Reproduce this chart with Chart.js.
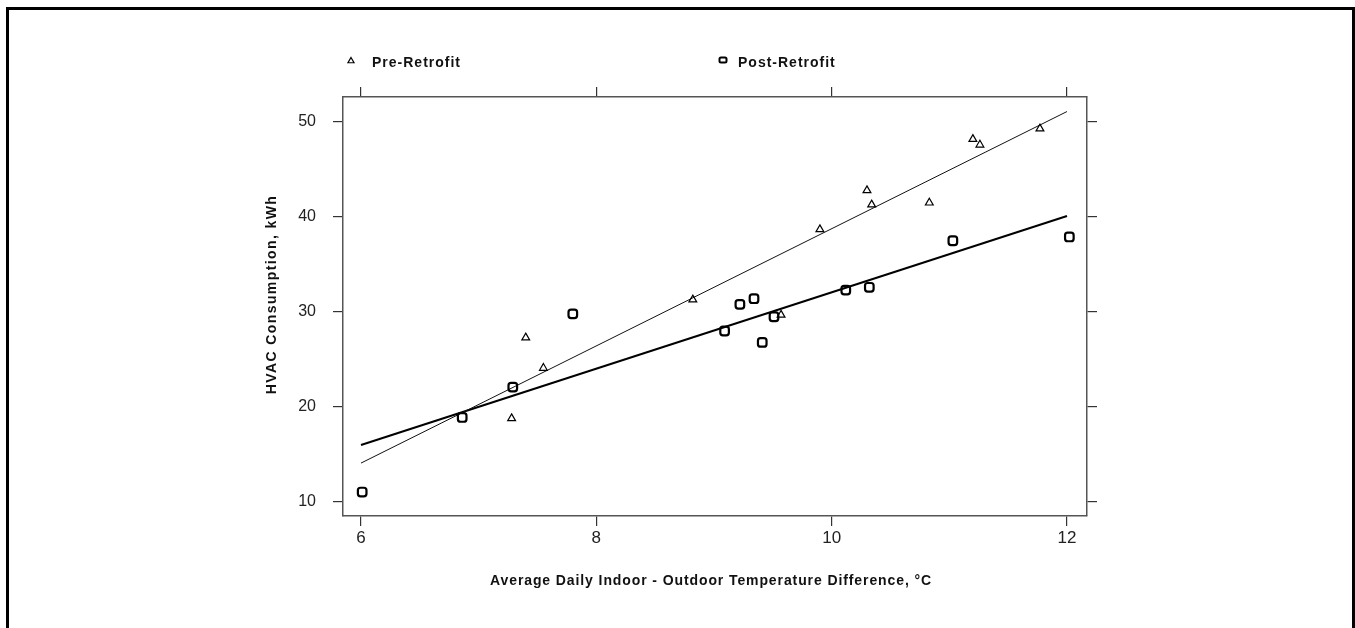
<!DOCTYPE html>
<html>
<head>
<meta charset="utf-8">
<title>HVAC Consumption vs Temperature Difference</title>
<script src="https://cdn.jsdelivr.net/npm/chart.js@4.4.0/dist/chart.umd.min.js"></script>
<style>
    html, body { margin: 0; padding: 0; background: #fff; overflow: hidden; }
    #frame {
        position: absolute; left: 6px; top: 7px; width: 1343px; height: 700px;
        border: 3px solid #000; border-bottom: none;
    }
    #chart { position: absolute; left: 0; top: 0; }
</style>
</head>
<body>
<div id="frame"></div>
<canvas id="chart" width="1355" height="628"></canvas>
<script>
// Данные
const preX = [7.28, 7.40, 7.55, 8.82, 9.57, 9.90, 10.30, 10.34, 10.83, 11.20, 11.26, 11.77];
const preY = [18.8, 27.3, 24.1, 31.3, 29.7, 38.7, 42.8, 41.3, 41.5, 48.2, 47.6, 49.3];
const postX = [6.01, 6.86, 7.29, 7.80, 9.09, 9.22, 9.34, 9.41, 9.51, 10.12, 10.32, 11.03, 12.02];
const postY = [11.05, 18.9, 22.1, 29.8, 28.0, 30.8, 31.4, 26.8, 29.5, 32.3, 32.6, 37.5, 37.9];

// Линии регрессии (концы)
const fitX = [6.0, 12.0];
const preFitY = [14.1, 51.1];
const postFitY = [16.0, 40.1];

const xTicks = [6, 8, 10, 12];
const yTicks = [10, 20, 30, 40, 50];

const seriesNames = ['Pre-Retrofit', 'Post-Retrofit'];
const xTitle = 'Average Daily Indoor - Outdoor Temperature Difference, \u00B0C';
const yTitle = 'HVAC Consumption, kWh';

const toPoints = (xs, ys) => xs.map((x, i) => ({ x: x, y: ys[i] }));

const FONT = '"Liberation Sans", Arial, Helvetica, sans-serif';

function markTriangle(ctx, x, y, r) {
    ctx.beginPath();
    ctx.moveTo(x, y - r);
    ctx.lineTo(x + r * 0.866, y + r * 0.5);
    ctx.lineTo(x - r * 0.866, y + r * 0.5);
    ctx.closePath();
    ctx.stroke();
}

function markSquare(ctx, x, y, w, h) {
    ctx.beginPath();
    ctx.roundRect(x - w / 2, y - h / 2, w, h, 1.5);
    ctx.stroke();
}

// Подписи осей и легенда сверху
const decor = {
    id: 'decor',
    afterDraw(chart) {
        const ctx = chart.ctx;
        const a = chart.chartArea;
        ctx.save();
        ctx.fillStyle = '#111';
        ctx.strokeStyle = '#000';
        ctx.font = 'bold 14px ' + FONT;
        ctx.letterSpacing = '0.9px';
        ctx.textAlign = 'center';
        ctx.textBaseline = 'middle';
        ctx.fillText(xTitle, (a.left + a.right) / 2 - 4, a.bottom + 65);

        ctx.save();
        ctx.letterSpacing = '1.4px';
        ctx.translate(a.left - 71, (a.top + a.bottom) / 2 - 12);
        ctx.rotate(-Math.PI / 2);
        ctx.fillText(yTitle, 0, 0);
        ctx.restore();

        // легенда
        ctx.font = 'bold 14px ' + FONT;
        ctx.letterSpacing = '1px';
        ctx.textAlign = 'left';
        const ly = a.top - 34;
        ctx.lineWidth = 1.2;
        markTriangle(ctx, a.left + 8, ly - 2, 3.5);
        ctx.fillText(seriesNames[0], a.left + 29, ly);
        ctx.lineWidth = 2;
        markSquare(ctx, a.left + 380, ly - 3, 7, 5);
        ctx.fillText(seriesNames[1], a.left + 395, ly);
        ctx.restore();
    }
};

const gridOpts = {
    drawOnChartArea: false,
    drawTicks: true,
    tickLength: 10,
    color: '#333',
    lineWidth: 1.2
};
const borderOpts = { display: true, color: '#555', width: 1.5 };

const ctx = document.getElementById('chart').getContext('2d');

new Chart(ctx, {
    type: 'scatter',
    data: {
        datasets: [
            {
                label: seriesNames[0],
                data: toPoints(preX, preY),
                pointStyle: 'triangle',
                radius: 4.5,
                borderWidth: 1.2,
                borderColor: '#000',
                backgroundColor: 'rgba(0,0,0,0)'
            },
            {
                label: seriesNames[1],
                data: toPoints(postX, postY),
                pointStyle: 'rectRounded',
                radius: 5,
                borderWidth: 2.2,
                borderColor: '#000',
                backgroundColor: 'rgba(0,0,0,0)'
            },
            {
                label: 'Pre-Retrofit fit',
                data: toPoints(fitX, preFitY),
                showLine: true,
                pointRadius: 0,
                borderWidth: 1,
                borderColor: '#111'
            },
            {
                label: 'Post-Retrofit fit',
                data: toPoints(fitX, postFitY),
                showLine: true,
                pointRadius: 0,
                borderWidth: 2,
                borderColor: '#000'
            }
        ]
    },
    options: {
        responsive: false,
        animation: false,
        layout: { padding: 0 },
        plugins: {
            legend: { display: false },
            tooltip: { enabled: false }
        },
        scales: {
            x: {
                type: 'linear',
                position: 'bottom',
                min: 5.847,
                max: 12.17,
                afterBuildTicks: s => { s.ticks = xTicks.map(v => ({ value: v })); },
                afterFit: s => { s.height = 112; },
                ticks: {
                    color: '#222',
                    padding: 2,
                    font: { family: FONT, size: 17 }
                },
                grid: gridOpts,
                border: borderOpts
            },
            xTop: {
                type: 'linear',
                position: 'top',
                min: 5.847,
                max: 12.17,
                afterBuildTicks: s => { s.ticks = xTicks.map(v => ({ value: v })); },
                afterFit: s => { s.height = 97; },
                ticks: { display: false },
                grid: gridOpts,
                border: borderOpts
            },
            y: {
                type: 'linear',
                position: 'left',
                min: 8.53,
                max: 52.63,
                afterBuildTicks: s => { s.ticks = yTicks.map(v => ({ value: v })); },
                afterFit: s => { s.width = 343; },
                ticks: {
                    color: '#222',
                    padding: 17,
                    font: { family: FONT, size: 16 }
                },
                grid: gridOpts,
                border: borderOpts
            },
            yRight: {
                type: 'linear',
                position: 'right',
                min: 8.53,
                max: 52.63,
                afterBuildTicks: s => { s.ticks = yTicks.map(v => ({ value: v })); },
                afterFit: s => { s.width = 268; },
                ticks: { display: false },
                grid: gridOpts,
                border: borderOpts
            }
        }
    },
    plugins: [decor]
});
</script>
</body>
</html>
